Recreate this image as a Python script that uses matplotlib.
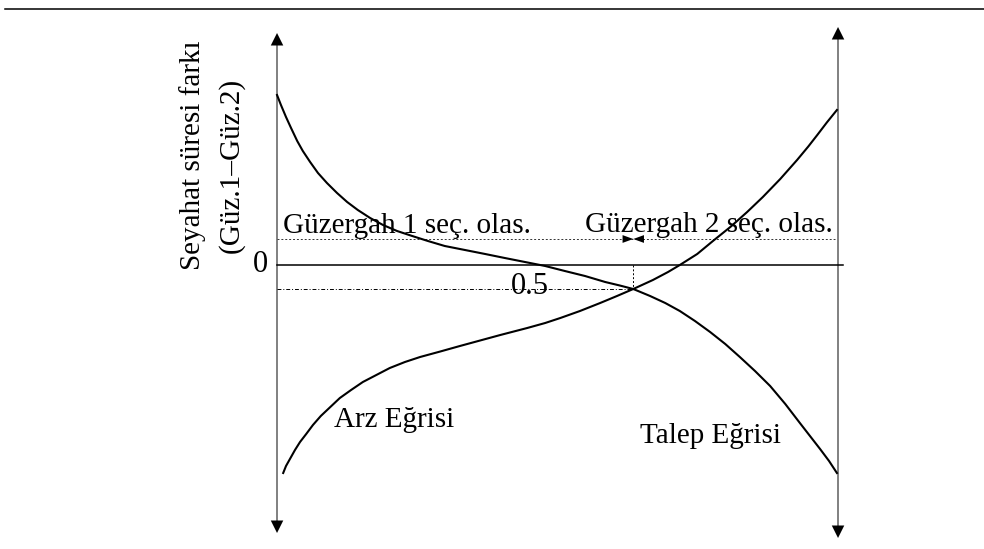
import matplotlib.pyplot as plt

plt.rcParams['font.family'] = ['Liberation Serif', 'DejaVu Serif']

# choice probability (0 = left axis, 1 = right axis) and travel time difference
talep_x = [0.000, 0.007, 0.016, 0.025, 0.036, 0.046, 0.059, 0.073, 0.089, 0.107, 0.125,
           0.144, 0.166, 0.189, 0.214, 0.241, 0.269, 0.299, 0.335, 0.371, 0.406, 0.442,
           0.478, 0.513, 0.549, 0.585, 0.611, 0.635, 0.665, 0.692, 0.718, 0.745, 0.772,
           0.799, 0.825, 0.852, 0.879, 0.906, 0.932, 0.950, 0.968, 0.984, 0.998]
talep_y = [1.70, 1.60, 1.48, 1.37, 1.24, 1.14, 1.03, 0.92, 0.82, 0.72, 0.63,
           0.55, 0.47, 0.40, 0.34, 0.29, 0.24, 0.19, 0.15, 0.11, 0.07, 0.03,
           -0.01, -0.06, -0.11, -0.17, -0.205, -0.24, -0.31, -0.38, -0.46, -0.56, -0.67,
           -0.79, -0.92, -1.06, -1.21, -1.39, -1.58, -1.71, -1.84, -1.96, -2.08]

arz_x = [0.011, 0.016, 0.023, 0.032, 0.041, 0.052, 0.064, 0.078, 0.095, 0.112, 0.132,
         0.153, 0.177, 0.201, 0.228, 0.255, 0.291, 0.326, 0.362, 0.398, 0.446, 0.478,
         0.505, 0.540, 0.576, 0.606, 0.635, 0.670, 0.697, 0.718, 0.749, 0.777, 0.808,
         0.838, 0.866, 0.897, 0.927, 0.947, 0.963, 0.980, 0.998]
arz_y = [-2.08, -2.01, -1.94, -1.85, -1.77, -1.69, -1.60, -1.51, -1.42, -1.33, -1.25,
         -1.17, -1.10, -1.03, -0.97, -0.92, -0.865, -0.81, -0.755, -0.70, -0.63, -0.58,
         -0.53, -0.46, -0.38, -0.31, -0.24, -0.15, -0.07, 0.00, 0.11, 0.24, 0.38,
         0.53, 0.68, 0.86, 1.05, 1.185, 1.30, 1.425, 1.55]

p_cross = 0.635      # point where the two curves meet
y_cross = -0.24
y_olas = 0.26        # level of the "seç. olas." dotted line

fig = plt.figure(figsize=(9.84, 5.49), dpi=100)
ax = fig.add_axes([0, 0, 1, 1])
ax.set_xlim(-0.4938, 1.2602)
ax.set_ylim(-2.84, 2.65)
ax.axis('off')

# rule at the top of the page
ax.axhline(2.56, xmin=5 / 984, xmax=1, color='black', lw=1.1)

# vertical axes with arrows at both ends
grey = '#808080'
ax.plot([0, 0], [-2.6, 2.24], color=grey, lw=1.4)
ax.plot([1, 1], [-2.65, 2.3], color=grey, lw=1.4)
head = dict(arrowstyle='-|>,head_length=0.5,head_width=0.25', color='black', lw=0,
            mutation_scale=18, shrinkA=0, shrinkB=0)
for x, y0, y1 in [(0, 2.32, -2.68), (1, 2.38, -2.73)]:
    ax.annotate('', xy=(x, y0), xytext=(x, y0 - 0.25), arrowprops=head)
    ax.annotate('', xy=(x, y1), xytext=(x, y1 + 0.25), arrowprops=head)

# zero line and helper lines
ax.plot([0, 1.009], [0, 0], color='black', lw=1.1)
ax.plot([0, 0.995], [y_olas, y_olas], color='#333333', lw=0.7, ls=(0, (2, 2)))
ax.plot([0, p_cross], [y_cross, y_cross], color='black', lw=0.7, ls=(0, (4, 2, 1, 2)))
ax.plot([p_cross, p_cross], [0, y_cross], color='black', lw=0.7, ls=(0, (2, 2)))

small = dict(arrowstyle='-|>,head_length=0.55,head_width=0.2', color='black', lw=0,
             mutation_scale=14, shrinkA=0, shrinkB=0)
ax.annotate('', xy=(p_cross, y_olas), xytext=(p_cross - 0.02, y_olas), arrowprops=small)
ax.annotate('', xy=(p_cross, y_olas), xytext=(p_cross + 0.02, y_olas), arrowprops=small)

# curves
ax.plot(talep_x, talep_y, color='black', lw=1.5, solid_joinstyle='round')
ax.plot(arz_x, arz_y, color='black', lw=1.5, solid_joinstyle='round')

# texts
fs = 21
ax.text(0.011, 0.32, 'Güzergah 1 seç. olas.', fontsize=fs, ha='left', va='baseline')
ax.text(0.549, 0.33, 'Güzergah 2 seç. olas.', fontsize=fs, ha='left', va='baseline')
ax.text(0.102, -1.62, 'Arz Eğrisi', fontsize=fs, ha='left', va='baseline')
ax.text(0.647, -1.78, 'Talep Eğrisi', fontsize=fs, ha='left', va='baseline')
ax.text(-0.016, 0, '0', fontsize=22, ha='right', va='center')
ax.text(0.451, -0.22, '0.5', fontsize=22, ha='center', va='center')
ax.text(-0.150, -0.05, 'Seyahat süresi farkı', fontsize=fs, rotation=90,
        rotation_mode='anchor', ha='left', va='center')
ax.text(-0.082, 0.12, '(Güz.1–Güz.2)', fontsize=fs, rotation=90,
        rotation_mode='anchor', ha='left', va='center')

fig.savefig('out.png', dpi=100)
